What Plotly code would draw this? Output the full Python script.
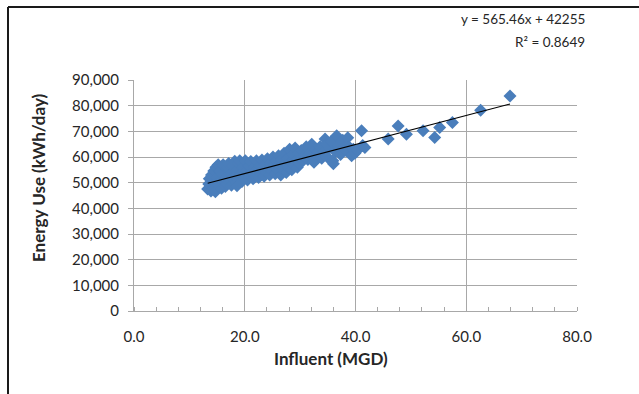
import plotly.graph_objects as go

# Influent flow (MGD) and daily energy use (kWh/day)
influent_mgd = [
    13.3, 13.5, 13.6, 13.8, 14.0, 14.0, 13.9,
    14.3, 14.4, 14.6, 14.8, 14.9, 15.0, 14.7,
    15.2, 15.3, 15.5, 15.6, 15.8, 15.9,
    16.1, 16.3, 16.5, 16.7, 16.9, 16.8,
    17.1, 17.3, 17.5, 17.6, 17.9, 17.8,
    18.2, 18.3, 18.5, 18.7, 18.9, 18.6,
    19.1, 19.3, 19.5, 19.7, 19.9,
    20.1, 20.3, 20.5, 20.7, 20.9,
    21.1, 21.3, 21.5, 21.7, 21.9,
    22.1, 22.3, 22.5, 22.7, 22.9,
    23.1, 23.3, 23.5, 23.7, 23.9,
    24.1, 24.3, 24.5, 24.7, 24.9,
    25.1, 25.3, 25.5, 25.7, 25.9,
    26.1, 26.3, 26.5, 26.7, 26.9,
    27.1, 27.3, 27.5, 27.7, 27.9,
    28.1, 28.3, 28.5, 28.7, 28.9,
    29.1, 29.3, 29.5, 29.7, 29.9,
    30.2, 30.5, 30.8,
    31.1, 31.4, 31.8,
    32.1, 32.4, 32.8, 32.5,
    33.2, 33.6, 33.9,
    34.5, 34.3, 34.8, 34.9,
    35.3, 35.6, 35.9,
    36.0, 36.6, 36.4, 36.9,
    37.3, 37.7, 37.9,
    38.6, 38.3, 38.8,
    39.3, 39.6, 39.9,
    40.3, 41.1, 41.7, 41.3,
    45.9, 47.7, 49.2, 52.2, 54.3, 55.2, 57.5, 62.6, 67.9,
]
energy_kwh_day = [
    47500, 49500, 51500, 48500, 50500, 53000, 46800,
    48000, 54500, 50000, 56000, 47500, 52000, 46500,
    57000, 49000, 51000, 54500, 47800, 53500,
    57000, 50500, 48500, 52500, 56000, 49500,
    57500, 51000, 53500, 49000, 56500, 51800,
    58300, 52500, 50000, 55000, 57500, 48800,
    58500, 53500, 50500, 56000, 51800,
    58500, 54500, 51000, 56500, 52500,
    58200, 54000, 51500, 56000, 52500,
    58500, 55000, 52000, 56500, 53000,
    58800, 55500, 52500, 57000, 54000,
    59300, 56000, 53000, 57500, 54500,
    60000, 56500, 53500, 58500, 55000,
    60500, 57000, 53000, 59000, 55000,
    61500, 57500, 54000, 59500, 56000,
    63000, 58000, 55000, 61000, 57000,
    63500, 59000, 56000, 61500, 57500,
    62500, 58500, 60500,
    64000, 59000, 61500,
    65000, 60000, 63000, 58000,
    62000, 64000, 59500,
    67000, 62000, 65000, 60000,
    63500, 66000, 58500,
    57400, 68300, 62000, 64500,
    61000, 66500, 63500,
    67500, 62500, 64000,
    60500, 63000, 61500,
    62500, 70200, 63700, 64500,
    67000, 72100, 68900, 70200, 67600, 71500, 73400, 78200, 83800,
]

# Linear trendline as reported on the chart
trend_slope = 565.46
trend_intercept = 42255
trend_r2 = 0.8649

x_ticks = [0, 20, 40, 60, 80]
y_ticks = [0, 10000, 20000, 30000, 40000, 50000, 60000, 70000, 80000, 90000]

W, H = 639, 394
L, R, T, B = 134, 577, 80, 311  # plot area in pixels


def px_x(p):
    return (p - L) / (R - L)


def px_y(p):
    return (B - p) / (B - T)


FONT = "Lato, 'Open Sans', sans-serif"
GRID = "#a8a8a8"
TXT = "#262626"

fig = go.Figure()
fig.add_trace(go.Scatter(
    x=influent_mgd, y=energy_kwh_day, mode="markers",
    marker=dict(symbol="diamond", size=10, color="#4a7ebb",
                line=dict(width=0)),
    showlegend=False, hoverinfo="x+y",
))
x_lo, x_hi = min(influent_mgd), max(influent_mgd)
fig.add_trace(go.Scatter(
    x=[x_lo, x_hi],
    y=[trend_slope * x_lo + trend_intercept, trend_slope * x_hi + trend_intercept],
    mode="lines", line=dict(color="#000000", width=1.2),
    showlegend=False, hoverinfo="skip",
))

fig.update_layout(
    width=W, height=H,
    margin=dict(l=L, r=W - R, t=T, b=H - B, pad=0),
    paper_bgcolor="white", plot_bgcolor="white",
    font=dict(family=FONT, size=15, color=TXT),
    xaxis=dict(
        range=[0, 80], tickvals=x_ticks, tickformat=".1f",
        showgrid=True, gridcolor=GRID, gridwidth=1,
        showline=True, linecolor=GRID, linewidth=1,
        ticks="", zeroline=False, tickfont=dict(size=15, color=TXT),
        ticklabelstandoff=12,
        minor=dict(dtick=4, ticks="inside", ticklen=4, tickcolor=GRID, showgrid=False),
    ),
    yaxis=dict(
        range=[0, 90000], tickvals=y_ticks, tickformat=",",
        showgrid=True, gridcolor=GRID, gridwidth=1,
        showline=True, linecolor=GRID, linewidth=1,
        ticks="outside", ticklen=5, tickcolor=GRID, zeroline=False,
        tickfont=dict(size=15, color=TXT), ticklabelstandoff=6,
    ),
    shapes=[
        dict(type="line", xref="paper", yref="paper",
             x0=px_x(8), x1=px_x(W + 5), y0=px_y(7), y1=px_y(7),
             line=dict(color="#1a1a1a", width=2)),
        dict(type="line", xref="paper", yref="paper",
             x0=px_x(8), x1=px_x(8), y0=px_y(7), y1=px_y(H + 5),
             line=dict(color="#1a1a1a", width=2)),
    ],
    annotations=[
        dict(text=f"y = {trend_slope}x + {trend_intercept}", xref="paper", yref="paper",
             x=px_x(587), y=px_y(19), xanchor="right", yanchor="middle",
             showarrow=False, font=dict(size=13.5, color=TXT)),
        dict(text=f"R² = {trend_r2}", xref="paper", yref="paper",
             x=px_x(587), y=px_y(42), xanchor="right", yanchor="middle",
             showarrow=False, font=dict(size=13.5, color=TXT)),
        dict(text="<b>Energy Use (kWh/day)</b>", xref="paper", yref="paper",
             x=px_x(38), y=px_y(178), xanchor="center", yanchor="middle",
             textangle=-90, showarrow=False, font=dict(size=17, color=TXT)),
        dict(text="<b>Influent (MGD)</b>", xref="paper", yref="paper",
             x=px_x(331), y=px_y(358), xanchor="center", yanchor="middle",
             showarrow=False, font=dict(size=17, color=TXT)),
    ],
)

fig.write_html("out.html")
